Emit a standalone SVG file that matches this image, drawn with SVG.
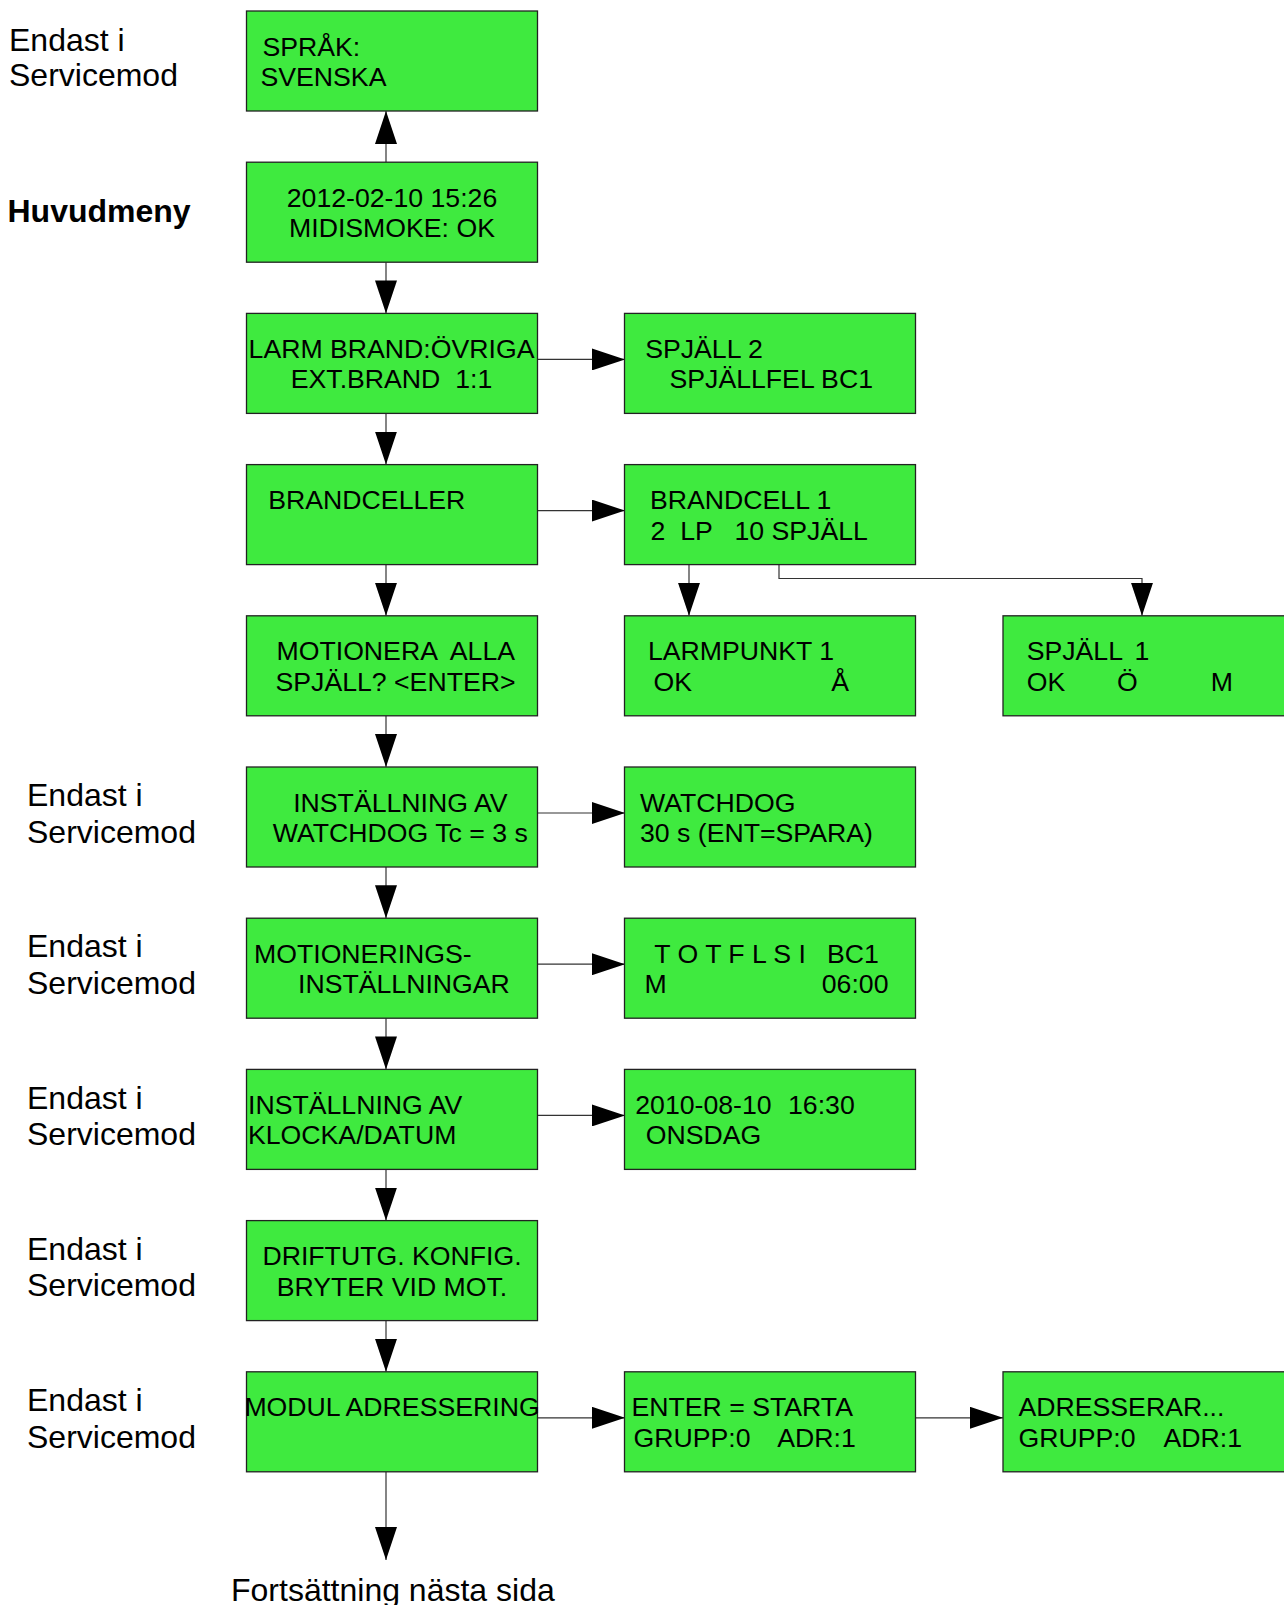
<svg xmlns="http://www.w3.org/2000/svg" width="1284" height="1605" viewBox="0 0 1284 1605">
<style>
.box{fill:#3FEA3F;stroke:#222;stroke-width:1.3}
.t{font-family:"Liberation Sans",Arial,sans-serif;font-size:26.67px;fill:#000}
.m{text-anchor:middle}
.lbl{font-family:"Liberation Sans",Arial,sans-serif;font-size:32px;fill:#000}
.b{font-weight:bold}
.c{fill:none;stroke:#333;stroke-width:1.2}
</style>
<defs>
<marker id="ah" markerUnits="userSpaceOnUse" markerWidth="33" markerHeight="22" refX="33" refY="11" orient="auto">
<path d="M0,0 L33,11 L0,22 z" fill="#000"/>
</marker>
</defs>
<rect width="1284" height="1605" fill="#fff"/>
<g id="labels">
<text class="lbl" x="9" y="51">Endast i</text>
<text class="lbl" x="9" y="86">Servicemod</text>
<text class="lbl b" x="7.5" y="222">Huvudmeny</text>
<text class="lbl" x="27" y="806">Endast i</text>
<text class="lbl" x="27" y="842.5">Servicemod</text>
<text class="lbl" x="27" y="957">Endast i</text>
<text class="lbl" x="27" y="993.5">Servicemod</text>
<text class="lbl" x="27" y="1108.5">Endast i</text>
<text class="lbl" x="27" y="1145">Servicemod</text>
<text class="lbl" x="27" y="1259.5">Endast i</text>
<text class="lbl" x="27" y="1296">Servicemod</text>
<text class="lbl" x="27" y="1411">Endast i</text>
<text class="lbl" x="27" y="1447.5">Servicemod</text>
<text class="lbl" x="231" y="1600.5">Fortsättning nästa sida</text>
</g>
<g id="connectors">
<line class="c" x1="386" y1="162.2" x2="386" y2="111" marker-end="url(#ah)"/>
<line class="c" x1="386" y1="262.2" x2="386" y2="313.4" marker-end="url(#ah)"/>
<line class="c" x1="386" y1="413.4" x2="386" y2="464.6" marker-end="url(#ah)"/>
<line class="c" x1="386" y1="564.6" x2="386" y2="615.8" marker-end="url(#ah)"/>
<line class="c" x1="386" y1="715.8" x2="386" y2="767" marker-end="url(#ah)"/>
<line class="c" x1="386" y1="867" x2="386" y2="918.2" marker-end="url(#ah)"/>
<line class="c" x1="386" y1="1018.2" x2="386" y2="1069.4" marker-end="url(#ah)"/>
<line class="c" x1="386" y1="1169.4" x2="386" y2="1220.6" marker-end="url(#ah)"/>
<line class="c" x1="386" y1="1320.6" x2="386" y2="1371.8" marker-end="url(#ah)"/>
<line class="c" x1="386" y1="1471.8" x2="386" y2="1560" marker-end="url(#ah)"/>
<line class="c" x1="537.5" y1="359.4" x2="625" y2="359.4" marker-end="url(#ah)"/>
<line class="c" x1="537.5" y1="510.6" x2="625" y2="510.6" marker-end="url(#ah)"/>
<line class="c" x1="537.5" y1="813" x2="625" y2="813" marker-end="url(#ah)"/>
<line class="c" x1="537.5" y1="964.2" x2="625" y2="964.2" marker-end="url(#ah)"/>
<line class="c" x1="537.5" y1="1115.4" x2="625" y2="1115.4" marker-end="url(#ah)"/>
<line class="c" x1="537.5" y1="1417.8" x2="625" y2="1417.8" marker-end="url(#ah)"/>
<line class="c" x1="915.5" y1="1417.8" x2="1003" y2="1417.8" marker-end="url(#ah)"/>
<line class="c" x1="689" y1="564.6" x2="689" y2="615.8" marker-end="url(#ah)"/>
<polyline class="c" points="779,564.6 779,578.5 1142,578.5 1142,615.8" marker-end="url(#ah)"/>
</g>
<g id="n-sprak">
<rect class="box" x="246.5" y="11" width="291" height="100"/>
<text class="t" x="262.5" y="55.5">SPRÅK:</text>
<text class="t" x="260.5" y="86">SVENSKA</text>
</g>
<g id="n-huvudmeny">
<rect class="box" x="246.5" y="162.2" width="291" height="100"/>
<text class="t m" x="392" y="206.7">2012-02-10 15:26</text>
<text class="t m" x="392" y="237.2">MIDISMOKE: OK</text>
</g>
<g id="n-larm">
<rect class="box" x="246.5" y="313.4" width="291" height="100"/>
<text class="t m" x="391.5" y="357.9">LARM BRAND:ÖVRIGA</text>
<text class="t m" x="391.5" y="388.4" xml:space="preserve">EXT.BRAND  1:1</text>
</g>
<g id="n-spjall2">
<rect class="box" x="624.5" y="313.4" width="291" height="100"/>
<text class="t" x="645.2" y="357.9">SPJÄLL 2</text>
<text class="t" x="669.5" y="388.4">SPJÄLLFEL BC1</text>
</g>
<g id="n-brandceller">
<rect class="box" x="246.5" y="464.6" width="291" height="100"/>
<text class="t" x="268.3" y="509.1">BRANDCELLER</text>
</g>
<g id="n-brandcell1">
<rect class="box" x="624.5" y="464.6" width="291" height="100"/>
<text class="t" x="650" y="509.1">BRANDCELL 1</text>
<text class="t" x="650.5" y="539.6" xml:space="preserve">2  LP   10 SPJÄLL</text>
</g>
<g id="n-motionera">
<rect class="box" x="246.5" y="615.8" width="291" height="100"/>
<text class="t" x="276.5" y="660.3" xml:space="preserve">MOTIONERA  ALLA</text>
<text class="t" x="275.5" y="690.8">SPJÄLL? &lt;ENTER&gt;</text>
</g>
<g id="n-larmpunkt">
<rect class="box" x="624.5" y="615.8" width="291" height="100"/>
<text class="t" x="648" y="660.3">LARMPUNKT 1</text>
<text class="t" y="690.8"><tspan x="653.5">OK</tspan><tspan x="831.2">Å</tspan></text>
</g>
<g id="n-spjall1">
<rect class="box" x="1003" y="615.8" width="291" height="100"/>
<text class="t" y="660.3"><tspan x="1026.7">SPJÄLL</tspan><tspan x="1134.5">1</tspan></text>
<text class="t" y="690.8"><tspan x="1026.7">OK</tspan><tspan x="1117">Ö</tspan><tspan x="1210.8">M</tspan></text>
</g>
<g id="n-watchdog">
<rect class="box" x="246.5" y="767" width="291" height="100"/>
<text class="t" x="293.2" y="811.5">INSTÄLLNING AV</text>
<text class="t" x="272.8" y="842">WATCHDOG Tc = 3 s</text>
</g>
<g id="n-watchdog-set">
<rect class="box" x="624.5" y="767" width="291" height="100"/>
<text class="t" x="640" y="811.5">WATCHDOG</text>
<text class="t" x="640" y="842">30 s (ENT=SPARA)</text>
</g>
<g id="n-motioneringsinst">
<rect class="box" x="246.5" y="918.2" width="291" height="100"/>
<text class="t" x="254" y="962.7">MOTIONERINGS-</text>
<text class="t" x="298" y="993.2">INSTÄLLNINGAR</text>
</g>
<g id="n-totflsi">
<rect class="box" x="624.5" y="918.2" width="291" height="100"/>
<text class="t" y="962.7" xml:space="preserve"><tspan x="654.3">T O T F L S I</tspan><tspan x="827">BC1</tspan></text>
<text class="t" y="993.2"><tspan x="644.5">M</tspan><tspan x="821.8">06:00</tspan></text>
</g>
<g id="n-klocka">
<rect class="box" x="246.5" y="1069.4" width="291" height="100"/>
<text class="t" x="248" y="1113.9">INSTÄLLNING AV</text>
<text class="t" x="248" y="1144.4">KLOCKA/DATUM</text>
</g>
<g id="n-datum">
<rect class="box" x="624.5" y="1069.4" width="291" height="100"/>
<text class="t" y="1113.9"><tspan x="635.3">2010-08-10</tspan><tspan x="788">16:30</tspan></text>
<text class="t" x="645.8" y="1144.4">ONSDAG</text>
</g>
<g id="n-drift">
<rect class="box" x="246.5" y="1220.6" width="291" height="100"/>
<text class="t m" x="392" y="1265.1">DRIFTUTG. KONFIG.</text>
<text class="t m" x="392" y="1295.6">BRYTER VID MOT.</text>
</g>
<g id="n-modul">
<rect class="box" x="246.5" y="1371.8" width="291" height="100"/>
<text class="t m" x="392" y="1416.3">MODUL ADRESSERING</text>
</g>
<g id="n-enter">
<rect class="box" x="624.5" y="1371.8" width="291" height="100"/>
<text class="t" x="631.5" y="1416.3">ENTER = STARTA</text>
<text class="t" y="1446.8"><tspan x="633.5">GRUPP:0</tspan><tspan x="777.3">ADR:1</tspan></text>
</g>
<g id="n-adresserar">
<rect class="box" x="1003" y="1371.8" width="291" height="100"/>
<text class="t" x="1018.5" y="1416.3">ADRESSERAR...</text>
<text class="t" y="1446.8"><tspan x="1018.5">GRUPP:0</tspan><tspan x="1163.5">ADR:1</tspan></text>
</g>
</svg>
